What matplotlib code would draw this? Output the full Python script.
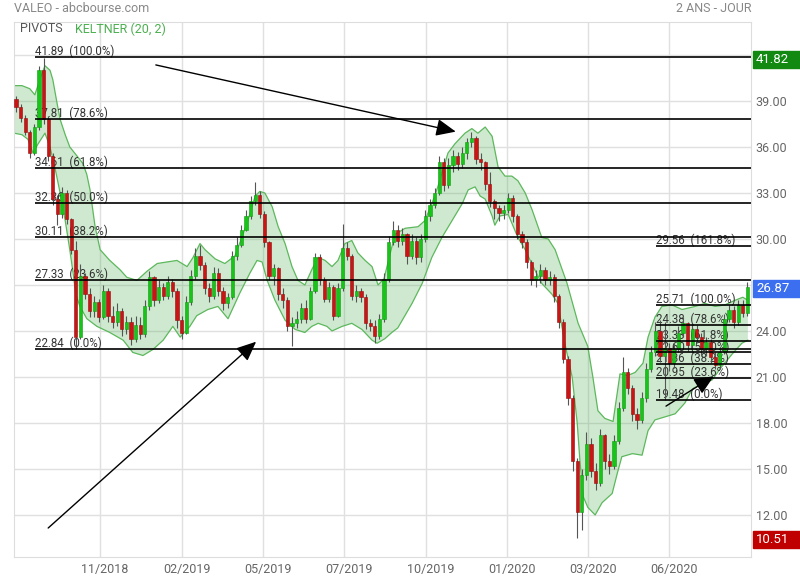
"""Graphique VALEO (abcbourse) : bougies, canal de Keltner et retracements de Fibonacci."""

from __future__ import annotations

import matplotlib

matplotlib.use("Agg")

import matplotlib.pyplot as plt
import numpy as np
from matplotlib.patches import Rectangle
from matplotlib.transforms import ScaledTranslation, blended_transform_factory

plt.rcParams["font.family"] = ["Roboto", "DejaVu Sans"]

OUTPUT_PATH = "out.png"

# bougies regroupées (~3 séances) : l'ouverture reprend la clôture précédente
FIRST_OPEN = 39.1
CLOSES = [
    38.6, 37.9, 37.0, 35.6, 37.3, 41.0, 37.8, 35.4, 32.6, 31.6,
    33.0, 31.3, 29.3, 23.6, 27.6, 26.4, 25.3, 25.9, 24.9, 26.6,
    25.0, 24.6, 25.3, 24.1, 24.6, 23.5, 24.4, 23.8, 25.6, 27.5,
    26.0, 26.9, 26.3, 27.2, 26.6, 24.7, 23.9, 25.9, 27.6, 28.9,
    28.3, 26.8, 26.3, 27.8, 26.6, 25.8, 26.2, 28.9, 29.6, 30.6,
    31.5, 32.5, 32.9, 31.6, 29.8, 27.6, 28.1, 26.4, 26.0, 24.3,
    24.5, 24.8, 25.5, 24.8, 26.6, 28.8, 27.3, 26.1, 26.9, 25.0,
    26.8, 29.4, 28.9, 26.3, 26.6, 26.2, 24.5, 24.3, 23.7, 24.8,
    27.4, 29.8, 30.6, 29.9, 30.3, 28.9, 29.9, 28.8, 30.0, 31.5,
    32.2, 33.0, 35.0, 33.5, 34.8, 35.4, 34.9, 35.6, 36.3, 36.6,
    35.2, 35.0, 33.6, 32.5, 32.0, 31.7, 31.9, 32.7, 31.5, 30.3,
    29.8, 28.5, 27.3, 27.6, 28.0, 27.3, 27.5, 26.3, 24.6, 22.2,
    19.6, 15.5, 12.2, 14.6, 16.6, 14.9, 14.1, 17.2, 15.5, 15.2,
    16.8, 19.0, 21.3, 20.3, 18.6, 18.2, 19.6, 21.5, 22.6, 24.0,
    22.4, 22.9, 21.9, 22.8, 23.9, 24.5, 23.1, 24.1, 23.6, 22.8,
    23.3, 22.3, 21.8, 22.6, 24.8, 25.4, 24.6, 25.7, 25.2, 26.87,
]
HIGHS = [
    39.3, 38.8, 38.1, 37.1, 37.5, 41.3, 41.82, 38.0, 35.6, 32.9,
    33.4, 33.2, 31.4, 29.9, 28.4, 27.8, 26.8, 26.3, 26.1, 27.0,
    26.8, 25.6, 25.8, 25.5, 25.0, 24.9, 25.0, 24.9, 26.0, 27.9,
    27.6, 27.3, 27.1, 27.6, 27.4, 26.8, 25.0, 26.3, 28.0, 29.4,
    29.6, 28.5, 27.1, 28.2, 28.1, 26.9, 26.5, 29.2, 30.1, 30.9,
    31.9, 32.8, 33.7, 33.1, 31.8, 29.9, 28.4, 28.2, 26.8, 26.2,
    24.9, 25.3, 25.8, 26.0, 26.9, 29.1, 29.0, 27.5, 27.2, 27.0,
    27.1, 31.0, 29.8, 29.0, 27.0, 26.8, 26.4, 24.8, 24.7, 25.1,
    27.8, 30.2, 31.2, 30.9, 30.7, 30.4, 30.3, 30.1, 30.3, 31.9,
    32.6, 33.3, 35.4, 35.3, 35.3, 35.8, 35.7, 36.0, 36.6, 37.0,
    36.7, 35.6, 35.1, 34.4, 32.6, 32.2, 32.2, 33.0, 32.9, 31.6,
    30.5, 30.0, 28.6, 28.0, 28.4, 28.2, 27.9, 27.7, 26.4, 24.8,
    22.4, 19.8, 15.7, 15.0, 17.4, 17.0, 15.4, 17.6, 17.3, 16.0,
    17.2, 19.4, 22.3, 21.6, 20.5, 19.0, 20.0, 21.9, 23.0, 24.6,
    24.7, 24.6, 23.2, 23.2, 24.3, 24.9, 24.6, 24.5, 24.4, 23.9,
    23.6, 23.5, 22.6, 22.9, 25.1, 25.7, 25.6, 26.0, 26.0, 27.2,
]
LOWS = [
    38.3, 37.6, 36.8, 35.3, 35.5, 37.1, 37.5, 35.1, 32.2, 30.9,
    31.4, 31.0, 29.0, 22.84, 23.5, 26.1, 24.9, 24.9, 24.6, 24.8,
    24.6, 24.2, 24.3, 23.7, 23.8, 23.1, 23.3, 23.5, 23.6, 25.4,
    25.6, 25.8, 26.0, 26.1, 26.2, 24.2, 23.5, 23.8, 25.7, 27.4,
    28.0, 26.4, 25.9, 26.1, 26.3, 25.4, 25.5, 26.1, 28.6, 29.5,
    30.5, 31.3, 32.2, 31.4, 29.5, 27.3, 27.0, 26.0, 25.5, 24.0,
    23.0, 24.2, 24.5, 24.5, 24.7, 26.5, 27.0, 25.9, 25.9, 24.7,
    24.9, 26.6, 28.6, 26.0, 25.9, 25.9, 24.1, 24.0, 23.2, 23.5,
    24.6, 27.2, 29.6, 29.5, 29.6, 28.4, 28.7, 28.4, 28.5, 29.8,
    31.2, 32.0, 32.9, 33.1, 33.3, 34.4, 34.5, 34.6, 35.2, 36.0,
    34.9, 34.5, 33.2, 32.1, 31.3, 31.2, 31.3, 31.7, 31.1, 30.0,
    29.4, 28.1, 27.0, 26.9, 27.1, 27.0, 27.0, 25.9, 24.2, 21.9,
    19.2, 14.9, 10.51, 11.0, 14.3, 14.5, 13.6, 13.9, 15.0, 14.7,
    15.0, 16.6, 18.8, 19.9, 18.1, 17.6, 18.0, 19.4, 21.3, 22.4,
    22.0, 19.48, 21.4, 21.6, 22.6, 23.6, 22.7, 22.9, 23.2, 22.4,
    22.4, 21.9, 21.5, 21.6, 22.5, 24.6, 24.2, 24.4, 24.9, 25.0,
]

# canal de Keltner (20, 2) (x = rang de bougie)
UPPER_X = [
    -0.4, 1.3, 3.0, 4.1, 5.2, 6.3, 7.4, 8.0, 8.9, 9.6,
    10.7, 11.7, 13.3, 14.6, 15.4, 16.1, 17.2, 18.3, 20.4, 22.6,
    24.1, 26.3, 28.5, 30.7, 32.8, 35.0, 37.2, 38.5, 40.0, 41.1,
    43.3, 45.4, 47.6, 49.1, 50.4, 52.0, 53.0, 54.1, 55.7, 57.0,
    58.5, 60.0, 61.3, 62.8, 64.3, 65.7, 67.2, 68.7, 70.0, 71.5,
    73.0, 74.3, 75.9, 77.4, 78.7, 80.0, 81.3, 82.4, 84.6, 87.4,
    88.9, 90.4, 91.7, 93.9, 95.4, 97.6, 99.1, 100.4, 102.0, 103.5,
    104.8, 106.3, 107.8, 109.1, 110.7, 112.2, 114.3, 115.7, 117.2, 119.8,
    122.2, 124.3, 125.4, 126.5, 128.0, 129.8, 131.3, 133.0, 134.6, 136.3,
    137.4, 138.9, 140.4, 142.6, 144.8, 147.6, 149.8, 152.0, 154.1, 156.3,
    158.0, 159.1,
]
UPPER_Y = [
    40.0, 40.0, 39.8, 39.4, 40.4, 41.3, 41.0, 40.4, 38.9, 37.8,
    36.8, 36.0, 35.4, 34.9, 34.2, 33.2, 30.8, 29.3, 28.6, 28.0,
    27.5, 27.3, 27.9, 28.4, 28.5, 28.6, 28.2, 28.8, 29.7, 29.3,
    28.7, 28.4, 28.9, 30.1, 31.2, 32.8, 33.1, 33.0, 32.1, 30.8,
    29.7, 28.2, 27.3, 27.0, 28.0, 28.8, 28.6, 28.2, 28.6, 29.7,
    29.9, 29.1, 28.6, 28.2, 27.0, 27.4, 29.0, 30.3, 30.7, 30.8,
    31.2, 32.3, 33.4, 35.6, 36.2, 36.9, 37.2, 36.9, 37.3, 36.7,
    34.7, 34.1, 34.1, 33.8, 33.0, 31.9, 30.1, 30.0, 29.3, 27.1,
    24.5, 23.0, 21.0, 18.8, 18.3, 18.1, 21.2, 21.1, 21.3, 21.9,
    23.6, 24.9, 25.6, 25.7, 25.4, 25.6, 25.8, 25.6, 25.7, 26.0,
    26.2, 26.0,
]
LOWER_X = [
    -0.4, 1.3, 2.6, 3.7, 4.8, 6.3, 7.4, 8.5, 9.6, 10.7,
    11.7, 12.4, 13.0, 13.9, 15.4, 17.6, 20.4, 23.3, 25.4, 27.6,
    29.8, 32.0, 34.1, 35.7, 37.8, 39.3, 41.7, 43.9, 46.1, 48.7,
    50.9, 52.4, 53.5, 54.6, 56.3, 58.5, 60.7, 62.8, 64.3, 65.7,
    67.6, 68.7, 70.9, 73.0, 75.2, 77.4, 78.5, 80.2, 81.7, 83.0,
    86.1, 88.3, 90.4, 92.6, 94.8, 97.0, 98.3, 99.8, 100.9, 102.0,
    103.5, 104.1, 105.2, 107.0, 109.1, 110.7, 112.4, 114.3, 116.5, 117.8,
    119.3, 120.9, 122.0, 122.6, 123.3, 124.3, 125.9, 127.4, 129.6, 130.7,
    131.7, 134.0, 136.1, 137.4, 138.9, 141.1, 143.3, 145.4, 147.0, 149.1,
    151.3, 153.5, 155.7, 157.8, 159.1,
]
LOWER_Y = [
    36.9, 36.8, 36.5, 35.6, 36.2, 36.9, 36.0, 34.6, 33.0, 31.2,
    29.3, 27.8, 26.4, 25.6, 24.8, 24.3, 23.9, 23.4, 22.6, 22.4,
    22.8, 23.4, 24.3, 23.6, 24.3, 25.0, 25.4, 25.6, 24.8, 26.5,
    27.8, 28.6, 28.5, 27.3, 26.0, 24.7, 24.1, 23.9, 24.3, 24.5,
    24.3, 24.0, 24.3, 24.5, 24.1, 23.4, 23.2, 23.5, 23.9, 24.2,
    25.8, 27.1, 28.8, 30.1, 31.2, 32.3, 33.2, 33.4, 32.8, 32.6,
    31.5, 30.9, 31.5, 31.6, 30.1, 29.3, 28.2, 27.1, 26.4, 25.8,
    23.2, 21.0, 18.0, 15.5, 13.2, 12.5, 12.0, 12.8, 13.4, 14.7,
    15.8, 16.0, 15.9, 17.5, 18.2, 18.4, 18.6, 19.3, 20.2, 20.6,
    20.8, 21.7, 22.5, 23.2, 23.4,
]

# pivots (retracements de Fibonacci)
FIB_LEFT = [41.89, 37.81, 34.61, 32.36, 30.11, 27.33, 22.84]
FIB_LEFT_PCT = ["100.0%", "78.6%", "61.8%", "50.0%", "38.2%", "23.6%", "0.0%"]
FIB_LEFT_START = 4.1
FIB_RIGHT = [29.56, 25.71, 24.38, 23.33, 22.60, 21.86, 20.95, 19.48]
FIB_RIGHT_PCT = ["161.8%", "100.0%", "78.6%", "61.8%", "50.0%", "38.2%", "23.6%", "0.0%"]
FIB_RIGHT_START = 139.1

# flèches tracées à la main sur le graphique
ARROW_FROM_X = [30.4, 7.0, 141.3]
ARROW_FROM_Y = [41.35, 11.15, 19.1]
ARROW_TO_X = [95.6, 52.2, 151.7]
ARROW_TO_Y = [37.0, 23.3, 21.05]

MONTH_IDX = [18.3, 36.1, 53.7, 71.3, 89.1, 106.7, 124.3, 142.0]
MONTH_LABELS = ["11/2018", "02/2019", "05/2019", "07/2019",
                "10/2019", "01/2020", "03/2020", "06/2020"]
PRICE_TICKS = [12, 15, 18, 21, 24, 27, 30, 33, 36, 39, 42]

XLIM = (-0.43, 159.78)
YLIM = (9.26, 44.15)


def draw_keltner(ax) -> None:
    """Bande de Keltner remplie avec ses deux bords."""

    xs = np.r_[UPPER_X, LOWER_X[::-1]]
    ys = np.r_[UPPER_Y, LOWER_Y[::-1]]
    ax.fill(xs, ys, color="#4caf50", alpha=0.27, lw=0, zorder=1)
    ax.plot(UPPER_X, UPPER_Y, color="#5cb85c", lw=0.9, zorder=1.5)
    ax.plot(LOWER_X, LOWER_Y, color="#5cb85c", lw=0.9, zorder=1.5)


def draw_candles(ax) -> None:
    """Bougies japonaises vert/rouge."""

    closes = np.array(CLOSES)
    opens = np.r_[FIRST_OPEN, closes[:-1]]
    x = np.arange(len(closes))
    up = closes >= opens

    ax.vlines(x, LOWS, HIGHS, color="#555555", lw=0.8, zorder=3)
    bottoms = np.minimum(opens, closes)
    heights = np.maximum(np.abs(closes - opens), 0.08)
    colors = ["#18c418" if u else "#cc1414" for u in up]
    edges = ["#139a13" if u else "#8c1010" for u in up]
    ax.bar(x, heights, bottom=bottoms, width=0.72, color=colors,
           edgecolor=edges, linewidth=0.4, zorder=4)


def draw_fibonacci(fig, ax, levels, pcts, start) -> None:
    """Niveaux horizontaux avec leur étiquette."""

    ax.hlines(levels, start, XLIM[1], colors="black", lw=1.2, zorder=5)
    lift = ax.transData + ScaledTranslation(0, 1.8 / 100, fig.dpi_scale_trans)
    for level, pct in zip(levels, pcts):
        ax.text(start, level, f"{level:.2f}  ({pct})", transform=lift,
                fontsize=8.3, color="#333333", va="baseline", ha="left", zorder=2.5)


def price_box(fig, ax, value, color) -> None:
    """Étiquette de prix colorée à droite de l'axe."""

    trans = blended_transform_factory(fig.transFigure, ax.transData)
    half = 8.5 * (YLIM[1] - YLIM[0]) / 535
    fig.add_artist(Rectangle((753 / 800, value - half - 0.1), 47 / 800, 2 * half,
                             transform=trans, color=color, zorder=5))
    fig.text(756 / 800, value - 0.1, f"{value:.2f}", transform=trans,
             color="white", fontsize=9.5, va="center", ha="left", zorder=6)


def main() -> None:
    fig = plt.figure(figsize=(8, 5.8), dpi=100)
    ax = fig.add_axes([14 / 800, 23 / 580, 737 / 800, 535 / 580])

    draw_keltner(ax)
    draw_candles(ax)
    draw_fibonacci(fig, ax, FIB_LEFT, FIB_LEFT_PCT, FIB_LEFT_START)
    draw_fibonacci(fig, ax, FIB_RIGHT, FIB_RIGHT_PCT, FIB_RIGHT_START)

    for x0, y0, x1, y1 in zip(ARROW_FROM_X, ARROW_FROM_Y, ARROW_TO_X, ARROW_TO_Y):
        ax.annotate("", xy=(x1, y1), xytext=(x0, y0), annotation_clip=False,
                    arrowprops=dict(arrowstyle="-|>,head_length=0.8,head_width=0.35",
                                    mutation_scale=15, color="black", lw=1,
                                    shrinkA=0, shrinkB=0), zorder=6)

    ax.set_xlim(*XLIM)
    ax.set_ylim(*YLIM)
    ax.set_xticks(MONTH_IDX, MONTH_LABELS)
    ax.set_yticks(PRICE_TICKS, [f"{t:.2f}" for t in PRICE_TICKS])
    ax.yaxis.tick_right()
    ax.tick_params(axis="both", length=0, labelsize=9, labelcolor="#666666")
    ax.tick_params(axis="x", pad=4.5)
    ax.tick_params(axis="y", pad=3.5)
    shift = ScaledTranslation(5 / 100, 0, fig.dpi_scale_trans)
    for label in ax.get_xticklabels():
        label.set_transform(label.get_transform() + shift)
    ax.grid(True, color="#e0e0e0", lw=1)
    ax.set_axisbelow(True)
    for spine in ax.spines.values():
        spine.set_color("#dddddd")

    closes = np.array(CLOSES)
    price_box(fig, ax, max(HIGHS), "#128a12")
    price_box(fig, ax, closes[-1], "#3c6fef")
    price_box(fig, ax, min(LOWS), "#c00000")

    fig.text(14 / 800, 1 - 8.5 / 580, "VALEO - abcbourse.com",
             fontsize=9, color="#888888", va="center", ha="left")
    fig.text(751 / 800, 1 - 8.5 / 580, "2 ANS - JOUR",
             fontsize=9, color="#888888", va="center", ha="right")
    fig.text(20 / 800, 1 - 29 / 580, "PIVOTS",
             fontsize=9, color="#555555", va="center", ha="left")
    fig.text(75 / 800, 1 - 29 / 580, "KELTNER (20, 2)",
             fontsize=9, color="#4caf50", va="center", ha="left")

    fig.savefig(OUTPUT_PATH, dpi=100)
    plt.close(fig)


if __name__ == "__main__":
    main()
